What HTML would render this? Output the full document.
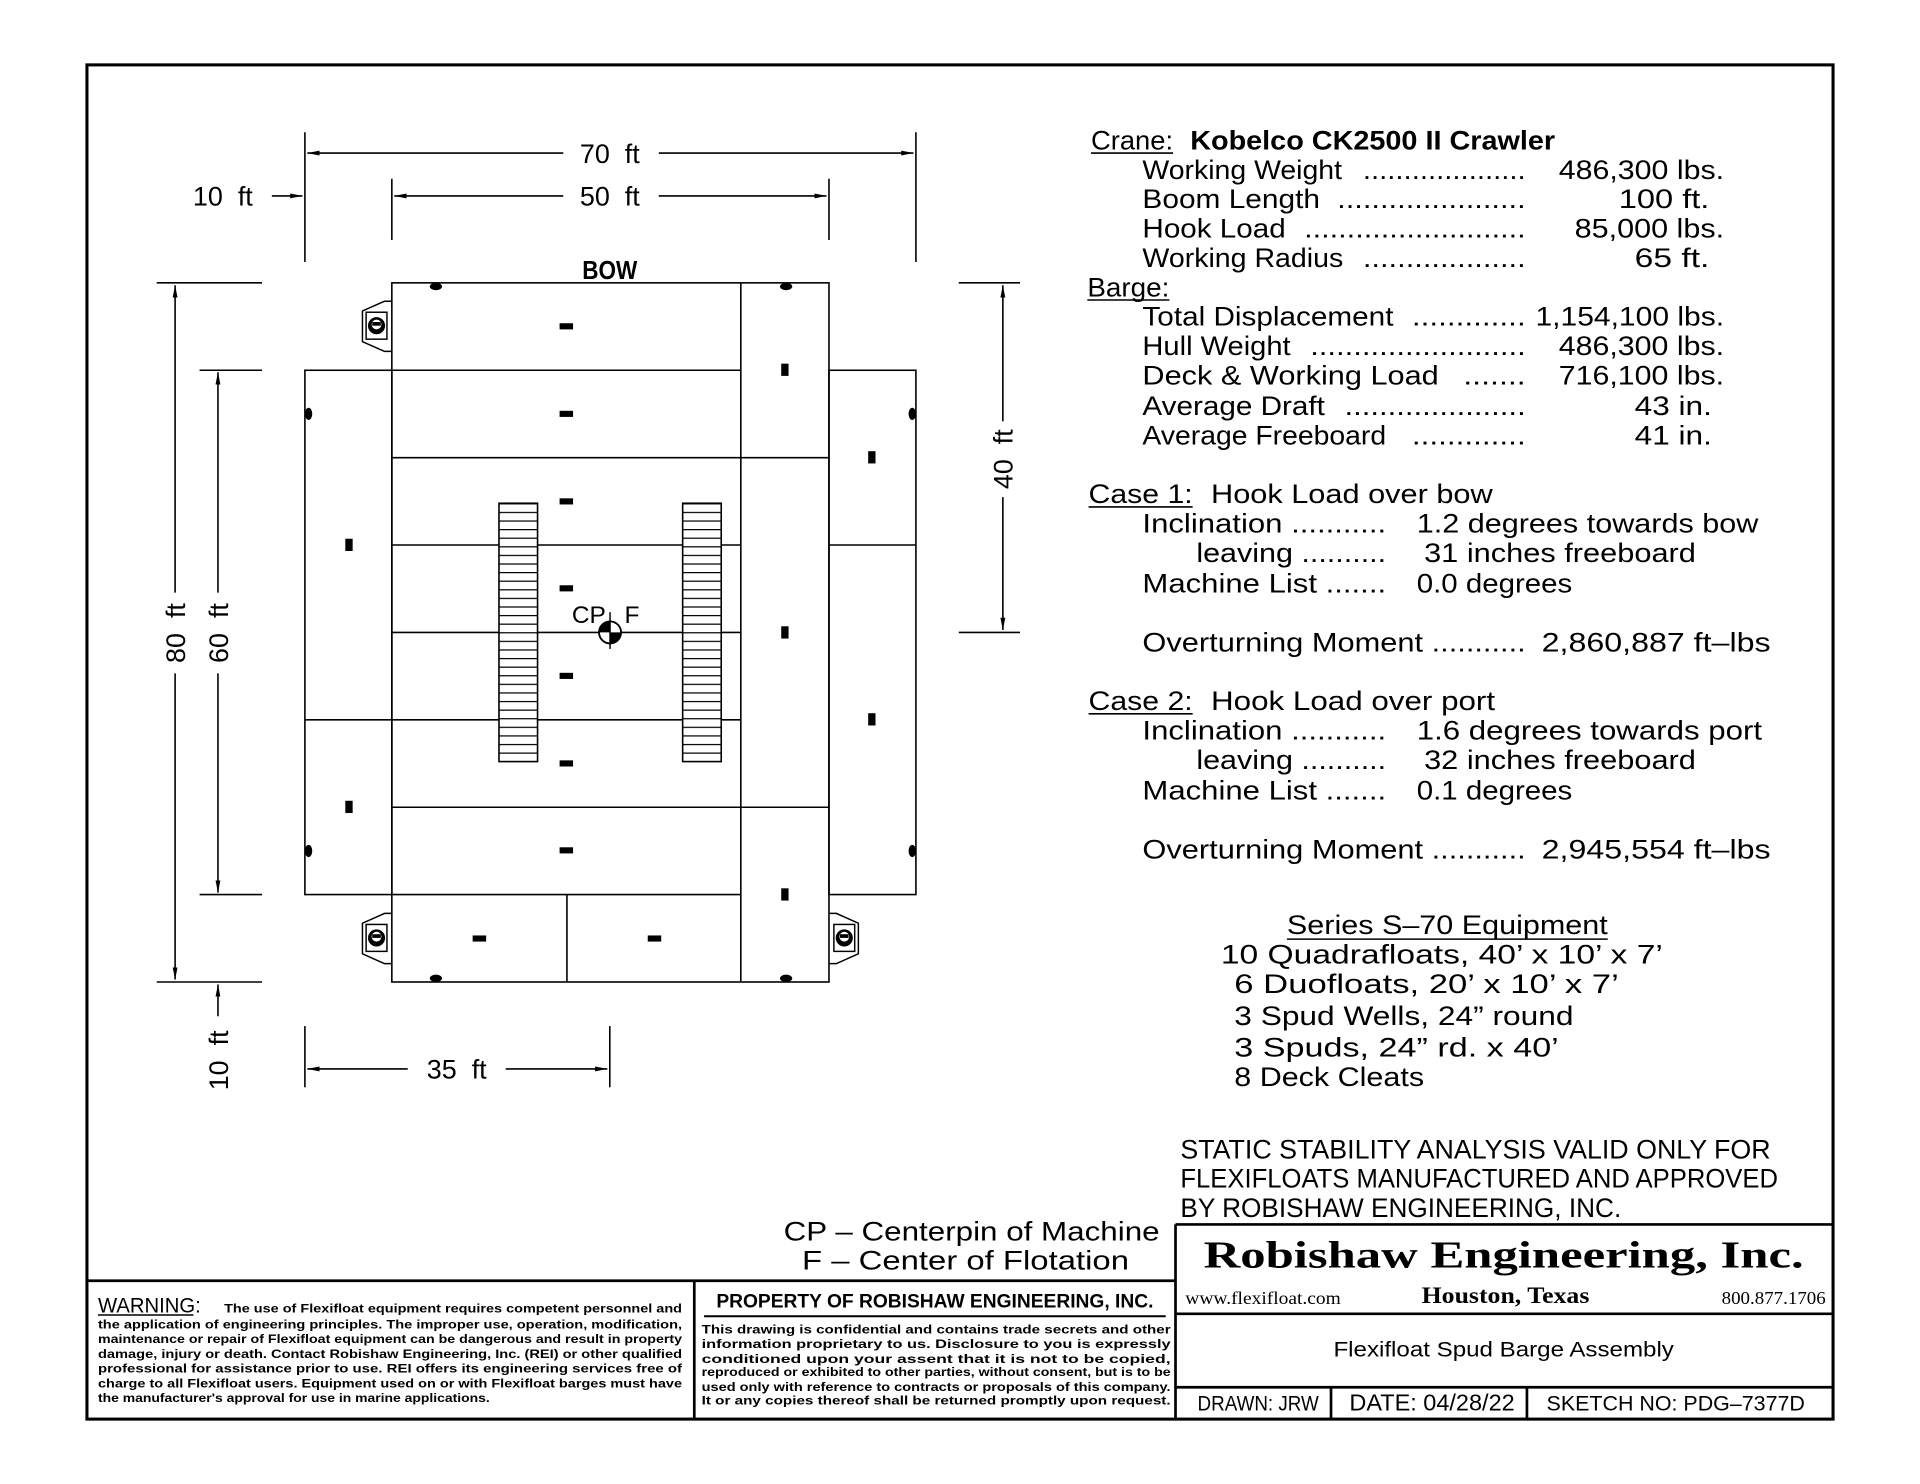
<!DOCTYPE html>
<html><head><meta charset="utf-8"><style>html,body{margin:0;padding:0;background:#fff}svg{display:block}</style></head>
<body>
<svg width="1920" height="1484" viewBox="0 0 1568 1212" preserveAspectRatio="none" xmlns="http://www.w3.org/2000/svg" font-family="'Liberation Sans', sans-serif" fill="#000">
<defs>
<pattern id="lad" x="0" y="411" width="10" height="7.02" patternUnits="userSpaceOnUse"><rect width="10" height="7.02" fill="#fff"/><line x1="0" y1="0.5" x2="10" y2="0.5" stroke="#000" stroke-width="1"/></pattern>
<marker id="ar" viewBox="0 0 10 6" refX="10" refY="3" markerWidth="10" markerHeight="6" markerUnits="userSpaceOnUse" orient="auto"><path d="M0,1 L10,3 L0,5z" fill="#000"/></marker>
<g id="spud"><path d="M24,0 H18 L0,8 V33 L18,41 H24" fill="none" stroke="#000" stroke-width="1.2"/><rect x="3" y="9" width="17" height="22" fill="none" stroke="#000" stroke-width="1.2"/><circle cx="11.5" cy="20" r="7" fill="#000"/><circle cx="11.5" cy="19" r="4" fill="#fff"/><rect x="8" y="17" width="7" height="3" fill="#000"/></g>
</defs>
<rect x="0" y="0" width="1568" height="1212" fill="#fff"/>
<rect x="71" y="53" width="1426" height="1106" fill="none" stroke="#000" stroke-width="2.5"/>
<g stroke="#000" stroke-width="2.2" fill="none">
<line x1="71" y1="1046" x2="960" y2="1046"/><line x1="567" y1="1046" x2="567" y2="1159"/>
<line x1="960" y1="1000" x2="1497" y2="1000"/><line x1="960" y1="1000" x2="960" y2="1159"/>
<line x1="960" y1="1073" x2="1497" y2="1073"/><line x1="960" y1="1133" x2="1497" y2="1133"/>
<line x1="1087" y1="1133" x2="1087" y2="1159"/><line x1="1247" y1="1133" x2="1247" y2="1159"/>
</g>
<g stroke="#000" stroke-width="1.3" fill="none">
<rect x="320" y="231" width="357" height="571"/>
<line x1="605" y1="231" x2="605" y2="802"/>
<rect x="249" y="302.4" width="71" height="428.2"/>
<rect x="677" y="302.4" width="71" height="428.2"/>
<line x1="249" y1="587.9" x2="320" y2="587.9"/>
<line x1="677" y1="445.1" x2="748" y2="445.1"/>
<line x1="320" y1="302.4" x2="605" y2="302.4"/>
<line x1="320" y1="373.8" x2="677" y2="373.8"/>
<line x1="320" y1="445.1" x2="605" y2="445.1"/>
<line x1="320" y1="516.5" x2="605" y2="516.5"/>
<line x1="320" y1="587.9" x2="605" y2="587.9"/>
<line x1="320" y1="659.3" x2="677" y2="659.3"/>
<line x1="320" y1="730.6" x2="605" y2="730.6"/>
<line x1="463" y1="730.6" x2="463" y2="802"/>
</g>
<rect x="407.5" y="411" width="31.5" height="211" fill="url(#lad)" stroke="#000" stroke-width="1.3"/>
<rect x="557.5" y="411" width="31.5" height="211" fill="url(#lad)" stroke="#000" stroke-width="1.3"/>
<g fill="#000">
<rect x="457" y="264" width="11" height="5"/><rect x="457" y="335.5" width="11" height="5"/><rect x="457" y="407" width="11" height="5"/><rect x="457" y="478" width="11" height="5"/><rect x="457" y="549.5" width="11" height="5"/><rect x="457" y="621" width="11" height="5"/><rect x="457" y="692" width="11" height="5"/>
<rect x="386" y="764" width="11" height="5"/><rect x="529" y="764" width="11" height="5"/>
<rect x="638" y="297" width="6" height="10"/><rect x="638" y="511.5" width="6" height="10"/><rect x="638" y="725.5" width="6" height="10"/>
<rect x="282" y="440" width="6" height="10"/><rect x="282" y="654" width="6" height="10"/>
<rect x="709" y="368.5" width="6" height="10"/><rect x="709" y="582.5" width="6" height="10"/>
<ellipse cx="356" cy="234" rx="5" ry="3"/><ellipse cx="642" cy="234" rx="5" ry="3"/>
<ellipse cx="356" cy="799" rx="5" ry="3"/><ellipse cx="642" cy="799" rx="5" ry="3"/>
<ellipse cx="252" cy="338" rx="3" ry="5"/><ellipse cx="252" cy="695" rx="3" ry="5"/>
<ellipse cx="745" cy="338" rx="3" ry="5"/><ellipse cx="745" cy="695" rx="3" ry="5"/>
</g>
<use href="#spud" x="296" y="246"/>
<use href="#spud" x="296" y="746"/>
<use href="#spud" x="0" y="0" transform="translate(701,746) scale(-1,1)"/>
<circle cx="498.2" cy="516.5" r="9" fill="#fff" stroke="#000" stroke-width="1.5"/>
<path d="M498.2,507.5 A9,9 0 0 0 489.2,516.5 L498.2,516.5Z M498.2,525.5 A9,9 0 0 0 507.2,516.5 L498.2,516.5Z" fill="#000"/>
<line x1="498.2" y1="500" x2="498.2" y2="530" stroke="#000" stroke-width="1.2"/>
<text x="467" y="509" font-size="20">CP</text><text x="510" y="509" font-size="20">F</text>
<text x="498" y="228" font-size="21" font-weight="bold" text-anchor="middle" textLength="45" lengthAdjust="spacingAndGlyphs">BOW</text>
<g stroke="#000" stroke-width="1.3" fill="none">
<line x1="249" y1="108" x2="249" y2="214"/><line x1="748" y1="108" x2="748" y2="214"/>
<line x1="320" y1="146" x2="320" y2="196"/><line x1="677" y1="146" x2="677" y2="196"/>
<line x1="460" y1="125" x2="251" y2="125" marker-end="url(#ar)"/><line x1="538" y1="125" x2="746" y2="125" marker-end="url(#ar)"/>
<line x1="460" y1="160" x2="322" y2="160" marker-end="url(#ar)"/><line x1="538" y1="160" x2="675" y2="160" marker-end="url(#ar)"/>
<line x1="222" y1="160" x2="247" y2="160" marker-end="url(#ar)"/>
<line x1="128" y1="231" x2="214" y2="231"/><line x1="128" y1="802" x2="214" y2="802"/>
<line x1="163" y1="302.4" x2="214" y2="302.4"/><line x1="163" y1="730.6" x2="214" y2="730.6"/>
<line x1="143" y1="484" x2="143" y2="233" marker-end="url(#ar)"/><line x1="143" y1="550" x2="143" y2="800" marker-end="url(#ar)"/>
<line x1="178" y1="484" x2="178" y2="304" marker-end="url(#ar)"/><line x1="178" y1="550" x2="178" y2="729" marker-end="url(#ar)"/>
<line x1="178" y1="830" x2="178" y2="804" marker-end="url(#ar)"/>
<line x1="249" y1="838" x2="249" y2="888"/><line x1="498" y1="838" x2="498" y2="888"/>
<line x1="333" y1="873" x2="251" y2="873" marker-end="url(#ar)"/><line x1="413" y1="873" x2="496" y2="873" marker-end="url(#ar)"/>
<line x1="783" y1="231" x2="833" y2="231"/><line x1="783" y1="516.5" x2="833" y2="516.5"/>
<line x1="819" y1="344" x2="819" y2="233" marker-end="url(#ar)"/><line x1="819" y1="406" x2="819" y2="514.5" marker-end="url(#ar)"/>
</g>
<g font-size="22" text-anchor="middle">
<text x="498" y="133">70&#160;&#160;ft</text>
<text x="498" y="168">50&#160;&#160;ft</text>
<text x="182" y="168">10&#160;&#160;ft</text>
<text x="373" y="881">35&#160;&#160;ft</text>
<text transform="translate(151,517) rotate(-90)">80&#160;&#160;ft</text>
<text transform="translate(186,517) rotate(-90)">60&#160;&#160;ft</text>
<text transform="translate(186,866) rotate(-90)">10&#160;&#160;ft</text>
<text transform="translate(827,375) rotate(-90)">40&#160;&#160;ft</text>
</g>
<g font-size="22">
<text x="891" y="122" textLength="67" lengthAdjust="spacingAndGlyphs">Crane:</text>
<line x1="891" y1="125" x2="958" y2="125" stroke="#000" stroke-width="1.3"/>
<text x="972" y="122" font-weight="bold" textLength="298" lengthAdjust="spacingAndGlyphs">Kobelco CK2500 II Crawler</text>
<text x="933" y="146" textLength="163" lengthAdjust="spacingAndGlyphs">Working Weight</text><text x="1113" y="146" textLength="133" lengthAdjust="spacingAndGlyphs">....................</text><text x="1273" y="146" textLength="135" lengthAdjust="spacingAndGlyphs">486,300 lbs.</text>
<text x="933" y="170" textLength="145" lengthAdjust="spacingAndGlyphs">Boom Length</text><text x="1092" y="170" textLength="154" lengthAdjust="spacingAndGlyphs">......................</text><text x="1322" y="170" textLength="74" lengthAdjust="spacingAndGlyphs">100 ft.</text>
<text x="933" y="194" textLength="117" lengthAdjust="spacingAndGlyphs">Hook Load</text><text x="1065" y="194" textLength="181" lengthAdjust="spacingAndGlyphs">..........................</text><text x="1286" y="194" textLength="122" lengthAdjust="spacingAndGlyphs">85,000 lbs.</text>
<text x="933" y="218" textLength="164" lengthAdjust="spacingAndGlyphs">Working Radius</text><text x="1113" y="218" textLength="133" lengthAdjust="spacingAndGlyphs">...................</text><text x="1335" y="218" textLength="61" lengthAdjust="spacingAndGlyphs">65 ft.</text>
<text x="888" y="242" textLength="67" lengthAdjust="spacingAndGlyphs">Barge:</text>
<line x1="888" y1="245" x2="955" y2="245" stroke="#000" stroke-width="1.3"/>
<text x="933" y="266" textLength="205" lengthAdjust="spacingAndGlyphs">Total Displacement</text><text x="1153" y="266" textLength="93" lengthAdjust="spacingAndGlyphs">.............</text><text x="1254" y="266" textLength="154" lengthAdjust="spacingAndGlyphs">1,154,100 lbs.</text>
<text x="933" y="290" textLength="121" lengthAdjust="spacingAndGlyphs">Hull Weight</text><text x="1070" y="290" textLength="176" lengthAdjust="spacingAndGlyphs">.........................</text><text x="1273" y="290" textLength="135" lengthAdjust="spacingAndGlyphs">486,300 lbs.</text>
<text x="933" y="314" textLength="242" lengthAdjust="spacingAndGlyphs">Deck &amp; Working Load</text><text x="1195" y="314" textLength="51" lengthAdjust="spacingAndGlyphs">.......</text><text x="1273" y="314" textLength="135" lengthAdjust="spacingAndGlyphs">716,100 lbs.</text>
<text x="933" y="339" textLength="149" lengthAdjust="spacingAndGlyphs">Average Draft</text><text x="1098" y="339" textLength="148" lengthAdjust="spacingAndGlyphs">.....................</text><text x="1335" y="339" textLength="63" lengthAdjust="spacingAndGlyphs">43 in.</text>
<text x="933" y="363" textLength="199" lengthAdjust="spacingAndGlyphs">Average Freeboard</text><text x="1153" y="363" textLength="93" lengthAdjust="spacingAndGlyphs">.............</text><text x="1335" y="363" textLength="63" lengthAdjust="spacingAndGlyphs">41 in.</text>

<text x="889" y="411" textLength="85" lengthAdjust="spacingAndGlyphs">Case 1:</text><line x1="889" y1="414" x2="974" y2="414" stroke="#000" stroke-width="1.3"/>
<text x="989" y="411" textLength="230" lengthAdjust="spacingAndGlyphs">Hook Load over bow</text>
<text x="933" y="435" textLength="199" lengthAdjust="spacingAndGlyphs">Inclination ...........</text><text x="1157" y="435" textLength="279" lengthAdjust="spacingAndGlyphs">1.2 degrees towards bow</text>
<text x="977" y="459" textLength="155" lengthAdjust="spacingAndGlyphs">leaving ..........</text><text x="1163" y="459" textLength="222" lengthAdjust="spacingAndGlyphs">31 inches freeboard</text>
<text x="933" y="484" textLength="199" lengthAdjust="spacingAndGlyphs">Machine List .......</text><text x="1157" y="484" textLength="127" lengthAdjust="spacingAndGlyphs">0.0 degrees</text>
<text x="933" y="532" textLength="313" lengthAdjust="spacingAndGlyphs">Overturning Moment ...........</text><text x="1259" y="532" textLength="187" lengthAdjust="spacingAndGlyphs">2,860,887 ft–lbs</text>

<text x="889" y="580" textLength="85" lengthAdjust="spacingAndGlyphs">Case 2:</text><line x1="889" y1="583" x2="974" y2="583" stroke="#000" stroke-width="1.3"/>
<text x="989" y="580" textLength="232" lengthAdjust="spacingAndGlyphs">Hook Load over port</text>
<text x="933" y="604" textLength="199" lengthAdjust="spacingAndGlyphs">Inclination ...........</text><text x="1157" y="604" textLength="282" lengthAdjust="spacingAndGlyphs">1.6 degrees towards port</text>
<text x="977" y="628" textLength="155" lengthAdjust="spacingAndGlyphs">leaving ..........</text><text x="1163" y="628" textLength="222" lengthAdjust="spacingAndGlyphs">32 inches freeboard</text>
<text x="933" y="653" textLength="199" lengthAdjust="spacingAndGlyphs">Machine List .......</text><text x="1157" y="653" textLength="127" lengthAdjust="spacingAndGlyphs">0.1 degrees</text>
<text x="933" y="701" textLength="313" lengthAdjust="spacingAndGlyphs">Overturning Moment ...........</text><text x="1259" y="701" textLength="187" lengthAdjust="spacingAndGlyphs">2,945,554 ft–lbs</text>

<text x="1051" y="763" textLength="262" lengthAdjust="spacingAndGlyphs">Series S–70 Equipment</text><line x1="1051" y1="767" x2="1313" y2="767" stroke="#000" stroke-width="1.3"/>
<text x="997" y="787" textLength="361" lengthAdjust="spacingAndGlyphs">10 Quadrafloats, 40’ x 10’ x 7’</text>
<text x="1008" y="811" textLength="314" lengthAdjust="spacingAndGlyphs">6 Duofloats, 20’ x 10’ x 7’</text>
<text x="1008" y="837" textLength="277" lengthAdjust="spacingAndGlyphs">3 Spud Wells, 24” round</text>
<text x="1008" y="863" textLength="265" lengthAdjust="spacingAndGlyphs">3 Spuds, 24” rd. x 40’</text>
<text x="1008" y="887" textLength="155" lengthAdjust="spacingAndGlyphs">8 Deck Cleats</text>

<text x="964" y="946" textLength="482" lengthAdjust="spacingAndGlyphs">STATIC STABILITY ANALYSIS VALID ONLY FOR</text>
<text x="964" y="970" textLength="488" lengthAdjust="spacingAndGlyphs">FLEXIFLOATS MANUFACTURED AND APPROVED</text>
<text x="964" y="994" textLength="360" lengthAdjust="spacingAndGlyphs">BY ROBISHAW ENGINEERING, INC.</text>
<text x="640" y="1013" textLength="307" lengthAdjust="spacingAndGlyphs">CP – Centerpin of Machine</text>
<text x="655" y="1037" textLength="267" lengthAdjust="spacingAndGlyphs">F – Center of Flotation</text>
</g>
<g font-family="'Liberation Serif', serif">
<text x="983" y="1035" font-size="31" font-weight="bold" textLength="490" lengthAdjust="spacingAndGlyphs">Robishaw Engineering, Inc.</text>
<text x="968" y="1065" font-size="15" textLength="127" lengthAdjust="spacingAndGlyphs">www.flexifloat.com</text>
<text x="1161" y="1064" font-size="19" font-weight="bold" textLength="137" lengthAdjust="spacingAndGlyphs">Houston, Texas</text>
<text x="1406" y="1065" font-size="15" textLength="85" lengthAdjust="spacingAndGlyphs">800.877.1706</text>
</g>
<g font-size="17">
<text x="1089" y="1108" textLength="278" lengthAdjust="spacingAndGlyphs">Flexifloat Spud Barge Assembly</text>
<text x="978" y="1152" textLength="99" lengthAdjust="spacingAndGlyphs">DRAWN: JRW</text>
<text x="1102" y="1152" font-size="19" textLength="135" lengthAdjust="spacingAndGlyphs">DATE: 04/28/22</text>
<text x="1263" y="1152" textLength="211" lengthAdjust="spacingAndGlyphs">SKETCH NO: PDG–7377D</text>
</g>
<text x="80" y="1072" font-size="17" textLength="84" lengthAdjust="spacingAndGlyphs">WARNING:</text>
<line x1="80" y1="1074" x2="158" y2="1074" stroke="#000" stroke-width="1.2"/>
<g font-size="10" font-weight="bold">
<text x="183" y="1072" textLength="374" lengthAdjust="spacingAndGlyphs">The use of Flexifloat equipment requires competent personnel and</text>
<text x="80" y="1085" textLength="477" lengthAdjust="spacingAndGlyphs">the application of engineering principles.  The improper use, operation, modification,</text>
<text x="80" y="1097" textLength="477" lengthAdjust="spacingAndGlyphs">maintenance or repair of Flexifloat equipment can be dangerous and result in property</text>
<text x="80" y="1109" textLength="477" lengthAdjust="spacingAndGlyphs">damage, injury or death.  Contact Robishaw Engineering, Inc. (REI) or other qualified</text>
<text x="80" y="1121" textLength="477" lengthAdjust="spacingAndGlyphs">professional for assistance prior to use.  REI offers its engineering services free of</text>
<text x="80" y="1133" textLength="477" lengthAdjust="spacingAndGlyphs">charge to all Flexifloat users. Equipment used on or with Flexifloat barges must have</text>
<text x="80" y="1145" textLength="320" lengthAdjust="spacingAndGlyphs">the manufacturer's approval for use in marine applications.</text>
</g>
<text x="585" y="1068" font-size="16" font-weight="bold" textLength="357" lengthAdjust="spacingAndGlyphs">PROPERTY OF ROBISHAW ENGINEERING, INC.</text>
<line x1="575" y1="1075" x2="952" y2="1075" stroke="#000" stroke-width="1.6"/>
<g font-size="10" font-weight="bold">
<text x="573" y="1089" textLength="383" lengthAdjust="spacingAndGlyphs">This drawing is confidential and contains trade secrets and other</text>
<text x="573" y="1101" textLength="383" lengthAdjust="spacingAndGlyphs">information proprietary to us.  Disclosure to you is expressly</text>
<text x="573" y="1113" textLength="383" lengthAdjust="spacingAndGlyphs">conditioned upon your assent that it is not to be copied,</text>
<text x="573" y="1124" textLength="383" lengthAdjust="spacingAndGlyphs">reproduced or exhibited to other parties, without consent, but is to be</text>
<text x="573" y="1136" textLength="383" lengthAdjust="spacingAndGlyphs">used only with reference to contracts or proposals of this company.</text>
<text x="573" y="1147" textLength="383" lengthAdjust="spacingAndGlyphs">It or any copies thereof shall be returned promptly upon request.</text>
</g>
</svg>
</body></html>
